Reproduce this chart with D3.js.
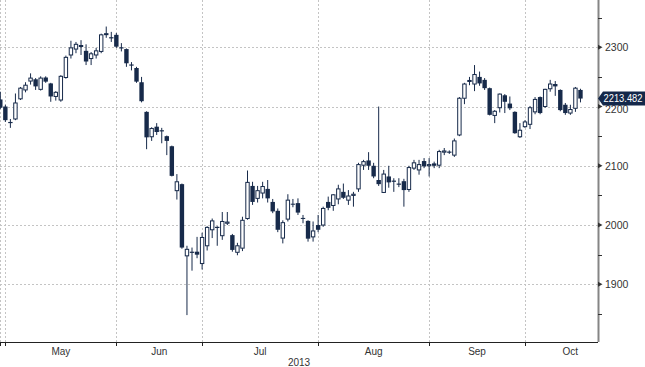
<!DOCTYPE html>
<html>
<head>
<meta charset="utf-8">
<script src="https://cdn.jsdelivr.net/npm/d3@7"></script>
<style>
  html, body { margin: 0; padding: 0; background: #fff; }
  svg { display: block; font-family: "Liberation Sans", Arial, sans-serif; }
</style>
</head>
<body>
<svg width="645" height="367"></svg>
<script>
// market closed on these weekdays (Labour day, Dragon boat, Mid-autumn, National day)
const holidays = ["2013-04-29", "2013-04-30", "2013-05-01", "2013-06-10", "2013-06-11", "2013-06-12",
  "2013-09-19", "2013-09-20", "2013-10-01", "2013-10-02", "2013-10-03", "2013-10-04", "2013-10-07"];
const firstDay = "2013-04-26", lastDay = "2013-10-31";

// daily OHLC
const open = [2212, 2200, 2174, 2179, 2213, 2228, 2243, 2246, 2229, 2249,
  2239, 2217, 2211, 2249, 2287, 2297, 2302, 2294, 2281, 2287,
  2293, 2322, 2317, 2321, 2300, 2297, 2271, 2265, 2241, 2191,
  2149, 2166, 2160, 2150, 2133, 2058, 2069, 1948, 1955, 1955,
  1935, 1965, 1992, 1997, 1982, 2003, 1983, 1954, 1961, 2011,
  2066, 2045, 2054, 2061, 2039, 2024, 1978, 2010, 2036, 2037,
  2012, 2007, 1980, 2000, 2000, 2039, 2033, 2044, 2056, 2042,
  2050, 2061, 2101, 2109, 2100, 2076, 2055, 2082, 2075, 2070,
  2074, 2060, 2096, 2093, 2108, 2100, 2104, 2101, 2123, 2124,
  2118, 2152, 2214, 2243, 2238, 2250, 2245, 2231, 2185, 2198,
  2219, 2205, 2191, 2149, 2166, 2170, 2191, 2216, 2200, 2230,
  2238, 2228, 2203, 2189, 2197, 2228];
const close = [2198, 2177, 2172, 2206, 2231, 2236, 2248, 2234, 2248, 2242,
  2217, 2224, 2251, 2283, 2299, 2305, 2303, 2276, 2289, 2294,
  2321, 2323, 2315, 2301, 2298, 2273, 2269, 2242, 2209, 2148,
  2163, 2157, 2158, 2142, 2083, 2073, 1962, 1959, 1953, 1950,
  1979, 1996, 2007, 1995, 2006, 2005, 1958, 1965, 2008, 2072,
  2039, 2058, 2065, 2045, 2023, 1992, 2004, 2042, 2035, 2021,
  2011, 1977, 1990, 1992, 2028, 2029, 2051, 2061, 2046, 2049,
  2052, 2102, 2107, 2100, 2082, 2069, 2086, 2072, 2073, 2068,
  2059, 2097, 2105, 2102, 2099, 2102, 2100, 2124, 2125, 2122,
  2142, 2214, 2238, 2244, 2254, 2239, 2231, 2186, 2192, 2221,
  2208, 2197, 2155, 2160, 2174, 2198, 2212, 2189, 2229, 2238,
  2234, 2194, 2189, 2195, 2231, 2213.482];
const high = [2225, 2203, 2179, 2222, 2233, 2241, 2256, 2248, 2251, 2251,
  2240, 2226, 2253, 2286, 2311, 2309, 2312, 2305, 2292, 2299,
  2323, 2335, 2326, 2324, 2307, 2298, 2275, 2267, 2250, 2192,
  2165, 2172, 2164, 2151, 2134, 2086, 2070, 1965, 1962, 1980,
  1987, 1998, 2011, 1998, 2022, 2022, 1985, 1970, 2014, 2092,
  2073, 2066, 2073, 2076, 2044, 2028, 2008, 2052, 2044, 2045,
  2017, 2008, 2006, 2017, 2031, 2048, 2052, 2068, 2070, 2059,
  2056, 2105, 2110, 2123, 2105, 2200, 2093, 2100, 2079, 2079,
  2078, 2100, 2110, 2110, 2113, 2113, 2107, 2127, 2130, 2126,
  2146, 2216, 2240, 2250, 2270, 2259, 2248, 2232, 2194, 2222,
  2221, 2217, 2192, 2172, 2177, 2201, 2216, 2217, 2230, 2245,
  2243, 2229, 2206, 2203, 2233, 2230];
const low = [2196, 2174, 2164, 2177, 2211, 2224, 2237, 2228, 2227, 2240,
  2208, 2210, 2208, 2247, 2281, 2290, 2287, 2270, 2270, 2281,
  2290, 2316, 2309, 2299, 2293, 2267, 2261, 2240, 2207, 2128,
  2142, 2152, 2138, 2118, 2082, 2043, 1960, 1848, 1923, 1944,
  1925, 1957, 1978, 1965, 1975, 2000, 1955, 1949, 1956, 2009,
  2034, 2038, 2045, 2038, 2020, 1988, 1969, 2006, 2030, 2017,
  2003, 1972, 1972, 1988, 1997, 2025, 2024, 2035, 2044, 2034,
  2031, 2056, 2093, 2093, 2079, 2066, 2054, 2063, 2056, 2064,
  2031, 2056, 2093, 2085, 2096, 2082, 2096, 2096, 2118, 2120,
  2115, 2150, 2204, 2236, 2226, 2235, 2228, 2185, 2172, 2190,
  2189, 2194, 2154, 2147, 2164, 2162, 2187, 2187, 2198, 2225,
  2218, 2192, 2186, 2186, 2191, 2207];

const yTicks = [1900, 2000, 2100, 2200, 2300];
const yMinor = [1850, 1950, 2050, 2150, 2250, 2350];
const lastLabel = "2213.482";

function run() {
  const svg = d3.select("svg");
  const plotR = 598, plotB = 342;
  const ink = "#172a4a";

  const fmt = d3.timeFormat("%Y-%m-%d");
  let dates = d3.timeDay.range(new Date(firstDay + "T00:00"), d3.timeDay.offset(new Date(lastDay + "T00:00"), 1))
    .filter(d => d.getDay() % 6 != 0)
    .map(fmt)
    .filter(d => !holidays.includes(d));

  let step = 5.045;
  let x = d3.scalePoint().domain(dates).range([0.3, 0.3 + (dates.length - 1) * step]);
  let y = d3.scaleLinear().domain([1802.6, 2379.8]).range([plotB, 0]);

  let candles = open.map((o, i) => ({ date: dates[i], o: o, h: high[i], l: low[i], c: close[i] }));

  // months -> first trading day, label centred on the month
  let months = d3.groups(dates, d => d.slice(0, 7)).map(([m, ds]) => ({
    m: m,
    x0: x(ds[0]),
    x1: x(ds[ds.length - 1]) + step
  }));
  let monthFmt = d3.timeFormat("%b");

  // grid
  svg.append("g")
    .selectAll("line")
    .data(yTicks)
    .enter().append("line")
    .attr("x1", 0).attr("x2", plotR)
    .attr("y1", d => Math.round(y(d)) + 0.5).attr("y2", d => Math.round(y(d)) + 0.5)
    .attr("stroke", "#c4c4c4").attr("stroke-dasharray", "2,2");

  svg.append("g")
    .selectAll("line")
    .data(months)
    .enter().append("line")
    .attr("x1", d => Math.round(d.x0) + 0.5).attr("x2", d => Math.round(d.x0) + 0.5)
    .attr("y1", 0).attr("y2", plotB)
    .attr("stroke", "#c4c4c4").attr("stroke-dasharray", "2,2");

  // candles
  let g = svg.append("g");
  g.selectAll(".wick")
    .data(candles)
    .enter().append("line")
    .attr("x1", d => x(d.date)).attr("x2", d => x(d.date))
    .attr("y1", d => y(d.h)).attr("y2", d => y(d.l))
    .attr("stroke", ink).attr("stroke-width", 1);

  const bw = 4.4;
  g.selectAll(".body")
    .data(candles)
    .enter().append("rect")
    .attr("x", d => d.c >= d.o ? x(d.date) - bw / 2 + 0.5 : x(d.date) - bw / 2)
    .attr("width", d => d.c >= d.o ? bw - 1 : bw)
    .attr("y", d => y(Math.max(d.o, d.c)))
    .attr("height", d => Math.max(1, Math.abs(y(d.o) - y(d.c))))
    .attr("fill", d => d.c >= d.o ? "#fff" : ink)
    .attr("stroke", d => d.c >= d.o ? ink : "none")
    .attr("stroke-width", 1);

  // bottom axis
  let bx = svg.append("g").attr("font-size", 10).attr("fill", "#333");
  bx.append("line").attr("x1", 0).attr("x2", plotR).attr("y1", plotB + 0.5).attr("y2", plotB + 0.5)
    .attr("stroke", "#222");
  bx.selectAll(".tk").data(months).enter().append("line")
    .attr("x1", d => Math.round(d.x0) + 0.5).attr("x2", d => Math.round(d.x0) + 0.5)
    .attr("y1", plotB).attr("y2", plotB + 4).attr("stroke", "#222");
  bx.selectAll(".ml").data(months.filter(d => d.x0 > 2)).enter().append("text")
    .attr("x", d => (d.x0 + d.x1) / 2).attr("y", 355)
    .attr("text-anchor", "middle")
    .text(d => monthFmt(new Date(d.m + "-01T00:00")));
  bx.append("text").attr("x", plotR / 2).attr("y", 366).attr("text-anchor", "middle").text("2013");

  // right axis
  let ry = svg.append("g").attr("font-size", 10.5).attr("fill", "#333");
  ry.append("line").attr("x1", plotR + 0.5).attr("x2", plotR + 0.5).attr("y1", 0).attr("y2", plotB)
    .attr("stroke", "#858585").attr("stroke-width", 2);
  ry.selectAll(".mn").data(yMinor).enter().append("line")
    .attr("x1", plotR).attr("x2", plotR + 4)
    .attr("y1", d => Math.round(y(d)) + 0.5).attr("y2", d => Math.round(y(d)) + 0.5)
    .attr("stroke", "#333");
  ry.selectAll(".mj").data(yTicks).enter().append("path")
    .attr("d", d => `M${plotR},${y(d) - 2.5}L${plotR + 4.5},${y(d)}L${plotR},${y(d) + 2.5}Z`)
    .attr("fill", "#333");
  ry.selectAll("text").data(yTicks).enter().append("text")
    .attr("x", 605).attr("y", d => y(d) + (d == 2200 ? 3 : 0)).attr("dy", "0.36em")
    .text(d => d);

  // last price tag
  let ly = y(close[close.length - 1]);
  let tag = svg.append("g");
  tag.append("path")
    .attr("d", `M${plotR},${ly}L${plotR + 5},${ly - 7}H645V${ly + 7}H${plotR + 5}Z`)
    .attr("fill", "#14284a");
  tag.append("text").attr("x", 603.5).attr("y", ly).attr("dy", "0.36em")
    .attr("font-size", 10).attr("fill", "#fff")
    .attr("textLength", 39).attr("lengthAdjust", "spacingAndGlyphs")
    .text(lastLabel);
}

run();
</script>
</body>
</html>
